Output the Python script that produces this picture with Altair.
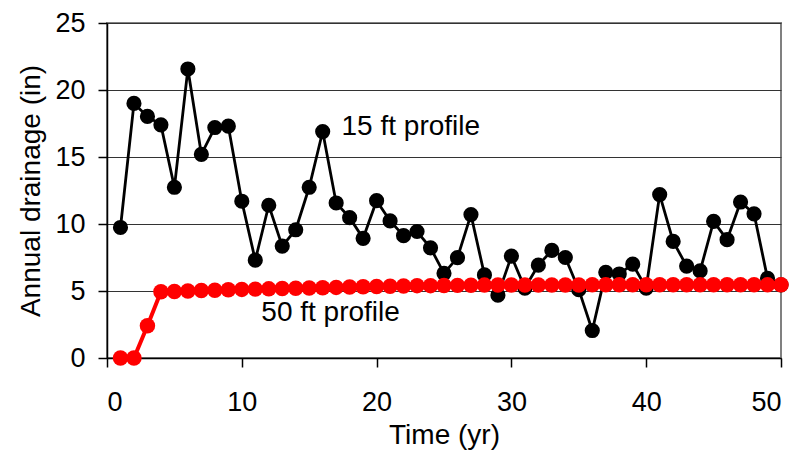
import altair as alt
import pandas as pd

years = list(range(1, 51))
drain_15ft = [9.74, 19.0, 18.03, 17.4, 12.74, 21.57, 15.2, 17.2, 17.3, 11.7,
              7.3, 11.4, 8.35, 9.57, 12.74, 16.9, 11.57, 10.47, 8.93, 11.74,
              10.23, 9.13, 9.44, 8.22, 6.32, 7.49, 10.7, 6.2, 4.69, 7.6,
              5.22, 6.93, 8.03, 7.5, 5.1, 2.05, 6.39, 6.27, 7.0, 5.22,
              12.2, 8.7, 6.86, 6.5, 10.2, 8.83, 11.64, 10.76, 5.95, 5.46]
drain_50ft = [0.0, 0.0, 2.4, 4.95, 4.97, 5.0, 5.03, 5.06, 5.09, 5.12,
              5.14, 5.16, 5.18, 5.2, 5.22, 5.25, 5.27, 5.3, 5.32, 5.34,
              5.36, 5.38, 5.4, 5.4, 5.41, 5.42, 5.43, 5.44, 5.45, 5.45,
              5.45, 5.45, 5.45, 5.45, 5.45, 5.46, 5.46, 5.46, 5.46, 5.46,
              5.46, 5.46, 5.46, 5.46, 5.46, 5.46, 5.46, 5.46, 5.46, 5.46]
x_ticks = [0, 10, 20, 30, 40, 50]
y_ticks = [0, 5, 10, 15, 20, 25]
label_text = ["15 ft profile", "50 ft profile"]
label_x = [17.4, 11.45]
label_y = [16.65, 2.75]

FONT = "Liberation Sans"

df = pd.DataFrame({"year": years, "d15": drain_15ft, "d50": drain_50ft})
labels = pd.DataFrame({"t": label_text, "x": label_x, "y": label_y})

xs = alt.Scale(domain=[0, 50], nice=False)
ys = alt.Scale(domain=[0, 25], nice=False)

xax = alt.Axis(values=x_ticks, grid=False, title="Time (yr)", tickSize=9,
               labelPadding=22, titlePadding=6)
yax = alt.Axis(values=y_ticks, grid=True, title="Annual drainage (in)", tickSize=9,
               labelPadding=13, titlePadding=9)

base = alt.Chart(df)

line15 = base.mark_line(color="black", strokeWidth=2.8).encode(
    x=alt.X("year:Q", scale=xs, axis=xax),
    y=alt.Y("d15:Q", scale=ys, axis=yax),
)
pts15 = base.mark_circle(color="black", size=230, opacity=1).encode(
    x=alt.X("year:Q", scale=xs),
    y=alt.Y("d15:Q", scale=ys),
)
line50 = base.mark_line(color="#FF0000", strokeWidth=4).encode(
    x=alt.X("year:Q", scale=xs),
    y=alt.Y("d50:Q", scale=ys),
)
pts50 = base.mark_circle(color="#FF0000", size=240, opacity=1).encode(
    x=alt.X("year:Q", scale=xs),
    y=alt.Y("d50:Q", scale=ys),
)
txt = alt.Chart(labels).mark_text(
    align="left", baseline="alphabetic", font=FONT, fontSize=28, color="black"
).encode(
    x=alt.X("x:Q", scale=xs),
    y=alt.Y("y:Q", scale=ys),
    text="t:N",
)

chart = alt.layer(line15, pts15, line50, pts50, txt).properties(
    width=674, height=335,
    autosize=alt.AutoSizeParams(type="none"),
    padding={"left": 99, "top": 15, "right": 15, "bottom": 94},
    background="white",
).configure_view(
    stroke="#808080", strokeWidth=2
).configure_axis(
    labelFont=FONT, titleFont=FONT, labelFontSize=27, titleFontSize=28,
    titleFontWeight="normal", labelColor="black", titleColor="black",
    domainColor="black", domainWidth=1.5, tickColor="black", tickWidth=1.5,
    gridColor="#333333", gridWidth=1,
)

chart.save("out.html", embed_options={"renderer": "svg", "actions": False})
